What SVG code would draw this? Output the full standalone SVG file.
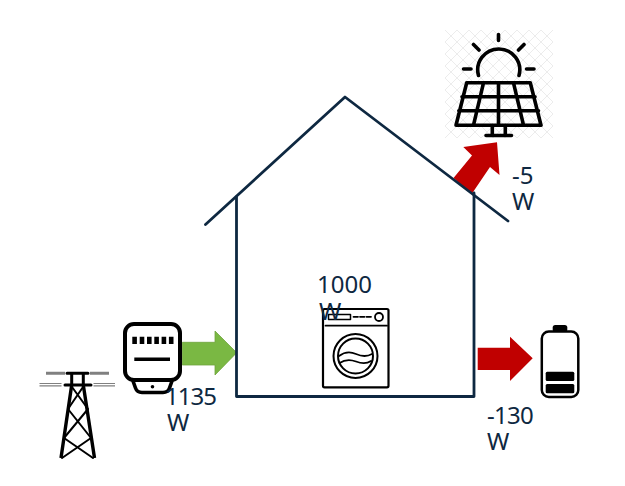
<svg xmlns="http://www.w3.org/2000/svg" width="625" height="486" viewBox="0 0 625 486">
<style>
.t{font-family:"Noto Sans","Open Sans",sans-serif;font-size:24px;fill:#0e2841}
.h{fill:none;stroke:#0e2841;stroke-width:2.800;stroke-linecap:round;stroke-linejoin:round}
.k{fill:none;stroke:#000;stroke-linecap:round;stroke-linejoin:round}
.g{stroke:#808080;stroke-width:1.2}
</style>
<defs>
<pattern id="hatch" width="12" height="12" patternUnits="userSpaceOnUse" x="445" y="30">
<path d="M0 0L12 12M12 0L0 12" stroke="#ececec" stroke-width="1" fill="none"/>
</pattern>
</defs>
<rect width="625" height="486" fill="#fff"/>
<g id="connectors">
<polygon id="flow-solar" points="497,142.300 463.300,147 472,155.500 453.500,178 471.700,194 490,167 499.500,175" fill="#c00000"/>
<polygon id="flow-grid" points="182.300,342.300 215,342.300 215,331 236.700,352.700 215,375 215,365 182.300,365" fill="#7ab843" stroke="#6ea33c" stroke-width="0.8"/>
<polygon id="flow-battery" points="477.700,347.700 510,347.700 510,336.700 532.700,358.300 510,381 510,370 477.700,370" fill="#c00000"/>
</g>
<g id="house">
<path class="h" d="M205.500 224.500L345 97L508 221"/>
<path class="h" d="M236.500 197V396.500H474V193"/>
</g>
<g id="solar">
<rect x="445" y="30" width="108" height="108" fill="url(#hatch)"/>
<g class="k" stroke-width="3.600">
<path d="M478.500 75.500A21 21 0 1 1 519 75.500"/>
<path d="M498.500 34.500V40.500M473.500 44.500L479 50M524 44.500L518.500 50M463.500 69H471M526.500 69H534"/>
<path d="M466.700 82.800H530.300L541 125.200H456ZM462 96.800H535M458.800 110.800H538.500M498.500 82.800V125.200M483.500 82.800L473.500 125.200M513.500 82.800L523.500 125.200"/>
<path d="M492.300 125.500V135.500M505.300 125.500V135.500M486 135.500H511.500"/>
</g>
</g>
<g id="grid">
<g class="k" stroke-width="3">
<path d="M67 373.300H88M65 385H91"/>
<path d="M71.700 374V385M83.300 374V385"/>
<path d="M72 387L88 409L64 438L93 458M83 387L68 409L91 438L62 458" stroke-width="2"/>
<path d="M71.700 385L61 458M83.300 385L94.500 458" stroke-width="3.400" stroke-linecap="butt"/>
</g>
<path d="M46 373.300H65M90 373.300H109" stroke="#808080" stroke-width="3"/>
<path class="g" d="M39.500 383.500H61.500M39.500 385.800H61.500M93.500 383.500H115M93.500 385.800H115"/>
</g>
<g id="meter">
<rect x="125" y="324" width="55" height="56" rx="9" fill="#fff" stroke="#000" stroke-width="4"/>
<path class="k" stroke-width="3.600" d="M133 381L135.500 388Q137 392.500 142 392.500H163Q168 392.500 169.500 388L172 381"/>
<path d="M132.300 336.700h4.600v7.300h-4.600zM139.700 336.700h4.600v7.300h-4.600zM147 336.700h4.600v7.300h-4.600zM154.300 336.700h4.600v7.300h-4.600zM161.600 336.700h4.600v7.300h-4.600zM168.900 336.700h4.600v7.300h-4.600z" fill="#000"/>
<path d="M134.300 359.300H170" stroke="#000" stroke-width="3.600"/>
<circle cx="152.500" cy="386.700" r="1.800" fill="#000"/>
</g>
<g id="washer">
<rect x="323" y="309" width="65.500" height="78.300" rx="1.500" fill="#fff" stroke="#000" stroke-width="2.200"/>
<g class="k" stroke-width="1.800">
<path d="M325.500 325.700H387"/>
<rect x="328.500" y="314.500" width="22" height="5" stroke-width="1.500"/>
<path d="M353.500 316.800H358M360 316.800H364.500M366.500 316.800H371"/>
<circle cx="379" cy="317" r="4"/>
<circle cx="355.500" cy="356" r="22" stroke-width="2"/>
<circle cx="355.500" cy="356" r="17.500" stroke-width="2"/>
<path d="M339 356Q347 350 356 354T372 354M339.500 363Q347 358 356 361.500T371 361"/>
</g>
</g>
<g id="battery">
<rect x="541.800" y="331.500" width="36.500" height="65.500" rx="7" fill="#fff" stroke="#000" stroke-width="2.500"/>
<rect x="552.700" y="325" width="14.600" height="7" rx="2.500" fill="#000"/>
<rect x="545.700" y="371.700" width="28.600" height="9.300" rx="1.500" fill="#000"/>
<rect x="545.700" y="384" width="28.600" height="9.300" rx="1.500" fill="#000"/>
</g>
<g id="labels">
<text class="t" x="165" y="405"><tspan letter-spacing="-1">1135</tspan><tspan x="167" dy="26">W</tspan></text>
<text class="t" x="317" y="293">1000<tspan x="319" dy="27">W</tspan></text>
<text class="t" x="512" y="184">-5<tspan x="512" dy="26">W</tspan></text>
<text class="t" x="487" y="424"><tspan letter-spacing="-0.700">-130</tspan><tspan x="487" dy="26">W</tspan></text>
</g>
</svg>
